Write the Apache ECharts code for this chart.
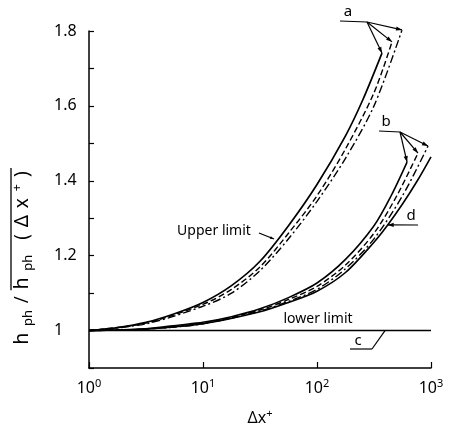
<!DOCTYPE html>
<html><head><meta charset="utf-8">
<script src="https://cdn.jsdelivr.net/npm/echarts@6/dist/echarts.min.js"></script>
<style>html,body{margin:0;padding:0;background:#fff}#c{width:452px;height:434px}</style>
</head><body><div id="c"></div>
<script>
const FONT = 'Noto Sans';
const yTickLabels = ['1', '1.2', '1.4', '1.6', '1.8'];
const xTickExponents = ['0', '1', '2', '3'];

// group a (upper limit)
const aSolidX = [1, 1.778, 3.162, 5.623, 10, 17.78, 31.62, 56.23, 100, 177.8, 251.2, 371.5];
const aSolidY = [1.0, 1.008, 1.022, 1.045, 1.075, 1.12, 1.185, 1.28, 1.39, 1.52, 1.615, 1.741];
const aDashX = [1, 3.162, 10, 17.78, 31.62, 56.23, 100, 177.8, 316.2, 455];
const aDashY = [1.0, 1.02, 1.07, 1.11, 1.17, 1.26, 1.36, 1.485, 1.635, 1.771];
const aDotX = [1, 3.162, 10, 17.78, 31.62, 56.23, 100, 177.8, 316.2, 557];
const aDotY = [1.0, 1.018, 1.065, 1.10, 1.16, 1.245, 1.345, 1.46, 1.60, 1.803];
// group b
const bSolidX = [1, 3.162, 6.31, 10, 17.78, 31.62, 56.23, 100, 177.8, 316.2, 446.7, 616.6];
const bSolidY = [1.0, 1.005, 1.015, 1.022, 1.037, 1.058, 1.088, 1.127, 1.19, 1.28, 1.36, 1.45];
const bDashX = [1, 3.162, 10, 31.62, 56.23, 100, 177.8, 316.2, 501.2, 769];
const bDashY = [1.0, 1.004, 1.02, 1.055, 1.083, 1.118, 1.175, 1.26, 1.36, 1.474];
const bDotX = [1, 3.162, 10, 31.62, 56.23, 100, 177.8, 316.2, 562.3, 942];
const bDotY = [1.0, 1.004, 1.018, 1.052, 1.078, 1.11, 1.165, 1.245, 1.36, 1.493];
// curve d
const dX = [1, 3.162, 10, 31.62, 56.23, 100, 177.8, 316.2, 417, 562.3, 758.6, 1000];
const dY = [1.0, 1.004, 1.018, 1.05, 1.075, 1.105, 1.155, 1.236, 1.282, 1.338, 1.40, 1.464];
// line c (lower limit)
const cX = [1, 1000];
const cY = [1, 1];

const zip = (xs, ys) => xs.map((x, i) => [x, ys[i]]);
const DASH = [6, 3];
const DASHDOT = [8, 3, 2, 3];
function line(name, xs, ys, type, width) {
  return {
    name, type: 'line', data: zip(xs, ys), showSymbol: false, smooth: 0.3,
    lineStyle: { color: '#000', width: width || 1.5, type: type || 'solid' }, silent: true
  };
}

const option = {
  animation: false,
  backgroundColor: '#fff',
  grid: { left: 89, right: 21, top: 31, bottom: 66 },
  xAxis: {
    type: 'log', logBase: 10, min: 1, max: 1000,
    axisLine: { lineStyle: { color: '#000', width: 1.5 } },
    axisTick: { inside: true, length: 6, lineStyle: { color: '#000', width: 1.2 } },
    splitLine: { show: false },
    axisLabel: {
      margin: 10,
      formatter: v => '{b|10}{s|' + xTickExponents[Math.round(Math.log10(v))] + '}',
      rich: {
        b: { fontSize: 16, fontFamily: FONT, color: '#000' },
        s: { fontSize: 11, fontFamily: FONT, color: '#000', padding: [0, 0, 10, 0] }
      }
    }
  },
  yAxis: {
    type: 'value', min: 0.9, max: 1.8, interval: 0.1,
    axisLine: { show: true, lineStyle: { color: '#000', width: 1.5 } },
    axisTick: { show: true, inside: true, length: 5, lineStyle: { color: '#000', width: 1.2 } },
    splitLine: { show: false },
    axisLabel: {
      align: 'left', margin: 35, fontSize: 16, fontFamily: FONT, color: '#000',
      formatter: v => yTickLabels.find(t => Math.abs(parseFloat(t) - v) < 1e-6) || ''
    }
  },
  series: [
    line('a1', aSolidX, aSolidY, 'solid', 1.7),
    line('a2', aDashX, aDashY, DASH, 1.4),
    line('a3', aDotX, aDotY, DASHDOT, 1.4),
    line('b1', bSolidX, bSolidY, 'solid', 1.6),
    line('b2', bDashX, bDashY, DASH, 1.4),
    line('b3', bDotX, bDotY, DASHDOT, 1.4),
    line('d', dX, dY, 'solid', 1.6),
    line('c', cX, cY, 'solid', 1.4)
  ]
};

const chart = echarts.init(document.getElementById('c'), null, { renderer: 'canvas' });
chart.setOption(option);

const P = (x, y) => chart.convertToPixel({ gridIndex: 0 }, [x, y]);
const last = (xs, ys) => P(xs[xs.length - 1], ys[ys.length - 1]);
const g = [];
const seg = (p, q, w) => g.push({ type: 'line', silent: true, shape: { x1: p[0], y1: p[1], x2: q[0], y2: q[1] }, style: { stroke: '#000', lineWidth: w || 1.2 } });
function arrow(from, to, size) {
  size = size || 6;
  const dx = to[0] - from[0], dy = to[1] - from[1], L = Math.hypot(dx, dy);
  const ux = dx / L, uy = dy / L;
  const bx = to[0] - ux * size, by = to[1] - uy * size;
  const px = -uy * size * 0.35, py = ux * size * 0.35;
  seg(from, to);
  g.push({ type: 'polygon', silent: true, shape: { points: [to, [bx + px, by + py], [bx - px, by - py]] }, style: { fill: '#000' } });
}
const txt = (s, x, y, size, extra) => g.push({ type: 'text', silent: true, x, y, style: Object.assign({ text: s, fontSize: size, fontFamily: FONT, fill: '#000', align: 'center', verticalAlign: 'middle' }, extra || {}) });

// label a
txt('a', 348, 12, 15);
seg([340, 21], [367, 22]);
arrow([367, 22], last(aSolidX, aSolidY));
arrow([367, 22], last(aDashX, aDashY));
arrow([367, 22], last(aDotX, aDotY));
// label b
txt('b', 386, 122, 15);
seg([379, 131], [400, 132]);
arrow([400, 132], last(bSolidX, bSolidY));
arrow([400, 132], last(bDashX, bDashY));
arrow([400, 132], last(bDotX, bDotY));
// label d
txt('d', 411, 216, 15);
arrow([418, 225], P(dX[8], dY[8]));
// label c
txt('c', 358, 341, 15);
seg([350, 349], [372, 349]);
seg([372, 349], P(395, 1));
// upper / lower limit
txt('Upper limit', 214, 231, 14);
arrow([259, 233], [274, 239], 4);
txt('lower limit', 318, 319, 14);
// x axis name
g.push({ type: 'text', silent: true, x: 260, y: 418, style: { text: '{m|Δx}{p|+}', align: 'center', verticalAlign: 'middle', rich: { m: { fontSize: 16, fontFamily: FONT, fill: '#000' }, p: { fontSize: 11, fontFamily: FONT, fill: '#000', padding: [0, 0, 9, 0] } } } });

// y axis name with overline, letter-spaced to the reference length
const ctx = document.createElement('canvas').getContext('2d');
const mw = (s, sz) => { ctx.font = sz + 'px "' + FONT + '"'; return ctx.measureText(s).width; };
const M = 19, S = 13, TARGET = 180;
const toks = [['h', 'm'], ['ph', 's'], ['/', 'm'], ['h', 'm'], ['ph', 's'], ['(', 'm'], ['Δ', 'm'], ['x', 'm'], ['+', 'p'], [')', 'm']];
const EXTRA_BEFORE_BRACKET = 8;
const base = toks.reduce((s, t) => s + mw(t[0], t[1] === 'm' ? M : S), 0);
const pad = Math.max(0, (TARGET - base - EXTRA_BEFORE_BRACKET) / toks.length / 2);
let richStr = '', acc = 0, ovStart = 0;
const rich = {};
toks.forEach((t, i) => {
  const key = 't' + i;
  const sz = t[1] === 'm' ? M : S;
  const pl = pad + (i === 5 ? EXTRA_BEFORE_BRACKET : 0);
  const pr = pad;
  const vpad = t[1] === 's' ? [11, pr, 0, pl] : t[1] === 'p' ? [0, pr, 11, pl] : [0, pr, 0, pl];
  rich[key] = { fontSize: sz, fontFamily: FONT, fill: '#000', padding: vpad };
  if (i === 3) ovStart = acc + pl - 1;
  acc += mw(t[0], sz) + pl + pr;
  richStr += '{' + key + '|' + t[0] + '}';
});
const wTotal = acc;
g.push({
  type: 'group', x: 23, y: 258, rotation: Math.PI / 2, silent: true, children: [
    { type: 'text', x: -wTotal / 2, y: 0, style: { text: richStr, align: 'left', verticalAlign: 'middle', rich } },
    { type: 'line', shape: { x1: -wTotal / 2 + ovStart, y1: -12, x2: wTotal / 2, y2: -12 }, style: { stroke: '#000', lineWidth: 1.3 } }
  ]
});
chart.setOption({ graphic: g });
</script></body></html>
